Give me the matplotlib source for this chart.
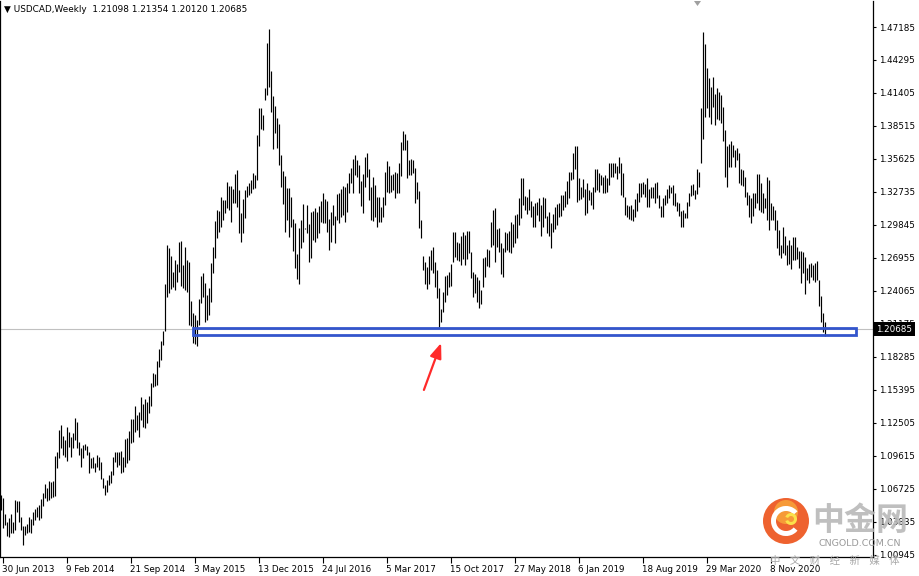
import matplotlib
matplotlib.use("Agg")
import matplotlib.pyplot as plt
from matplotlib.patches import Rectangle, Circle, Polygon, Wedge

# ---- data (one entry per weekly bar) ----
title_text = "\u25bc USDCAD,Weekly  1.21098 1.21354 1.20120 1.20685"
last_close = 1.20685

week_high = [
    1.0619, 1.0590, 1.0452, 1.0385, 1.0414, 1.0452, 1.0379, 1.0575, 1.0566, 1.0566,
    1.0429, 1.0347, 1.0347, 1.0365, 1.0423, 1.0406, 1.0467, 1.0496, 1.0511, 1.0531,
    1.0581, 1.0633, 1.0715, 1.0683, 1.0744, 1.0736, 1.0741, 1.0960, 1.0998, 1.1188,
    1.1232, 1.1136, 1.1101, 1.1212, 1.1168, 1.1130, 1.1159, 1.1290, 1.1261, 1.1086,
    1.1028, 1.1057, 1.1066, 1.1051, 1.0998, 1.0940, 1.0955, 1.0902, 1.0969, 1.0955,
    1.0905, 1.0765, 1.0706, 1.0750, 1.0794, 1.0832, 1.0955, 1.0993, 1.0998, 1.0993,
    1.1004, 1.0955, 1.1109, 1.1115, 1.1182, 1.1285, 1.1282, 1.1398, 1.1320, 1.1349,
    1.1474, 1.1416, 1.1457, 1.1437, 1.1486, 1.1603, 1.1685, 1.1679, 1.1796, 1.1895,
    1.1971, 1.2058, 1.2467, 1.2809, 1.2780, 1.2712, 1.2575, 1.2677, 1.2642, 1.2838,
    1.2847, 1.2634, 1.2794, 1.2677, 1.2663, 1.2321, 1.2210, 1.2196, 1.2152, 1.2333,
    1.2537, 1.2566, 1.2479, 1.2371, 1.2429, 1.2648, 1.2794, 1.3022, 1.3116, 1.3110,
    1.3232, 1.3203, 1.3203, 1.3358, 1.3329, 1.3326, 1.3297, 1.3431, 1.3466, 1.3291,
    1.3092, 1.3209, 1.3291, 1.3329, 1.3355, 1.3378, 1.3443, 1.3422, 1.3773, 1.4006,
    1.4006, 1.3948, 1.4181, 1.4576, 1.4698, 1.4336, 1.4114, 1.4027, 1.3919, 1.3869,
    1.3597, 1.3457, 1.3413, 1.3311, 1.3305, 1.3232, 1.3034, 1.3005, 1.2730, 1.2955,
    1.3028, 1.3168, 1.2960, 1.3159, 1.2993, 1.3101, 1.3110, 1.3130, 1.3101, 1.3151,
    1.3197, 1.3267, 1.3212, 1.3197, 1.3034, 1.3101, 1.3159, 1.3063, 1.3256, 1.3262,
    1.3297, 1.3329, 1.3320, 1.3355, 1.3437, 1.3481, 1.3559, 1.3597, 1.3554, 1.3510,
    1.3373, 1.3431, 1.3577, 1.3612, 1.3475, 1.3314, 1.3402, 1.3335, 1.3232, 1.3227,
    1.3145, 1.3227, 1.3451, 1.3548, 1.3501, 1.3422, 1.3428, 1.3451, 1.3437, 1.3530,
    1.3714, 1.3808, 1.3781, 1.3729, 1.3554, 1.3559, 1.3554, 1.3486, 1.3364, 1.3285,
    1.3028, 1.2715, 1.2660, 1.2615, 1.2710, 1.2765, 1.2788, 1.2663, 1.2590, 1.2429,
    1.2248, 1.2394, 1.2540, 1.2546, 1.2575, 1.2642, 1.2925, 1.2925, 1.2838, 1.2829,
    1.2887, 1.2925, 1.2896, 1.2934, 1.2934, 1.2750, 1.2575, 1.2555, 1.2531, 1.2502,
    1.2414, 1.2692, 1.2701, 1.2771, 1.2765, 1.3013, 1.3115, 1.3130, 1.2946, 1.2955,
    1.2829, 1.2779, 1.2925, 1.2911, 1.2934, 1.3013, 1.2993, 1.3071, 1.3080, 1.3217,
    1.3393, 1.3393, 1.3238, 1.3232, 1.3296, 1.3197, 1.3150, 1.3179, 1.3188, 1.3217,
    1.3159, 1.3232, 1.3217, 1.3063, 1.3101, 1.2998, 1.3080, 1.3139, 1.3168, 1.3174,
    1.3247, 1.3247, 1.3285, 1.3372, 1.3451, 1.3451, 1.3612, 1.3676, 1.3676, 1.3393,
    1.3320, 1.3384, 1.3296, 1.3349, 1.3290, 1.3276, 1.3320, 1.3471, 1.3471, 1.3442,
    1.3422, 1.3407, 1.3422, 1.3393, 1.3530, 1.3524, 1.3524, 1.3530, 1.3501, 1.3577,
    1.3524, 1.3442, 1.3232, 1.3159, 1.3150, 1.3159, 1.3121, 1.3209, 1.3267, 1.3355,
    1.3355, 1.3364, 1.3343, 1.3393, 1.3297, 1.3320, 1.3320, 1.3355, 1.3364, 1.3247,
    1.3151, 1.3218, 1.3247, 1.3297, 1.3335, 1.3320, 1.3335, 1.3267, 1.3188, 1.3174,
    1.3110, 1.3116, 1.3092, 1.3188, 1.3262, 1.3335, 1.3343, 1.3291, 1.3472, 1.3451,
    1.4006, 1.4678, 1.4570, 1.4356, 1.4269, 1.4190, 1.4278, 1.4132, 1.4181, 1.4152,
    1.4123, 1.4015, 1.3816, 1.3676, 1.3694, 1.3723, 1.3685, 1.3641, 1.3656, 1.3618,
    1.3472, 1.3466, 1.3402, 1.3276, 1.3247, 1.3218, 1.3267, 1.3267, 1.3431, 1.3431,
    1.3349, 1.3267, 1.3218, 1.3408, 1.3378, 1.3180, 1.3151, 1.3116, 1.3028, 1.2940,
    1.2809, 1.2970, 1.2888, 1.2809, 1.2853, 1.2809, 1.2882, 1.2882, 1.2794, 1.2759,
    1.2759, 1.2750, 1.2707, 1.2605, 1.2639, 1.2648, 1.2634, 1.2654, 1.2672, 1.2502,
    1.2362, 1.2216, 1.21354,
]

week_low = [
    1.0487, 1.0327, 1.0356, 1.0260, 1.0254, 1.0283, 1.0289, 1.0312, 1.0473, 1.0385,
    1.0312, 1.0181, 1.0268, 1.0283, 1.0298, 1.0283, 1.0356, 1.0400, 1.0429, 1.0400,
    1.0414, 1.0522, 1.0590, 1.0569, 1.0575, 1.0590, 1.0604, 1.0610, 1.0852, 1.0940,
    1.1028, 1.0969, 1.0955, 1.0920, 1.1042, 1.0955, 1.1028, 1.1101, 1.1028, 1.0969,
    1.0867, 1.0940, 1.1013, 1.0969, 1.0814, 1.0852, 1.0852, 1.0823, 1.0867, 1.0838,
    1.0756, 1.0677, 1.0619, 1.0648, 1.0706, 1.0721, 1.0794, 1.0911, 1.0867, 1.0882,
    1.0814, 1.0823, 1.0867, 1.0896, 1.0925, 1.1077, 1.1086, 1.1174, 1.1188, 1.1130,
    1.1276, 1.1217, 1.1203, 1.1247, 1.1334, 1.1398, 1.1562, 1.1574, 1.1582, 1.1737,
    1.1801, 1.1933, 1.2053, 1.2356, 1.2385, 1.2420, 1.2444, 1.2415, 1.2488, 1.2575,
    1.2450, 1.2429, 1.2415, 1.2400, 1.2108, 1.2099, 1.1953, 1.1945, 1.1927, 1.2108,
    1.2298, 1.2356, 1.2137, 1.2152, 1.2195, 1.2313, 1.2561, 1.2692, 1.2867, 1.2926,
    1.2970, 1.3028, 1.3086, 1.3130, 1.3116, 1.3013, 1.3174, 1.3180, 1.3145, 1.2911,
    1.2838, 1.2911, 1.3043, 1.3232, 1.3247, 1.3262, 1.3297, 1.3305, 1.3378, 1.3676,
    1.3822, 1.3816, 1.4079, 1.4123, 1.4196, 1.3977, 1.3647, 1.3787, 1.3656, 1.3510,
    1.3320, 1.3168, 1.2926, 1.3028, 1.2876, 1.2964, 1.2759, 1.2605, 1.2508, 1.2467,
    1.2780, 1.2838, 1.2950, 1.2917, 1.2663, 1.2692, 1.2853, 1.2838, 1.2867, 1.2911,
    1.3013, 1.3005, 1.2999, 1.2926, 1.2765, 1.2838, 1.2984, 1.2829, 1.3028, 1.2999,
    1.3051, 1.3072, 1.3013, 1.3101, 1.3262, 1.3349, 1.3267, 1.3422, 1.3408, 1.3262,
    1.3151, 1.3086, 1.3320, 1.3408, 1.3203, 1.3028, 1.3022, 1.3057, 1.2970, 1.3013,
    1.3013, 1.3057, 1.3159, 1.3276, 1.3267, 1.3276, 1.3291, 1.3218, 1.3267, 1.3267,
    1.3413, 1.3641, 1.3641, 1.3393, 1.3422, 1.3422, 1.3437, 1.3174, 1.3209, 1.2955,
    1.2867, 1.2590, 1.2470, 1.2425, 1.2465, 1.2590, 1.2560, 1.2444, 1.2341, 1.2093,
    1.2137, 1.2225, 1.2312, 1.2371, 1.2444, 1.2449, 1.2663, 1.2706, 1.2677, 1.2671,
    1.2633, 1.2683, 1.2633, 1.2683, 1.2741, 1.2517, 1.2356, 1.2385, 1.2312, 1.2254,
    1.2290, 1.2444, 1.2531, 1.2625, 1.2619, 1.2788, 1.2809, 1.2663, 1.2794, 1.2750,
    1.2555, 1.2531, 1.2750, 1.2765, 1.2745, 1.2741, 1.2794, 1.2823, 1.2867, 1.2984,
    1.3042, 1.3159, 1.3115, 1.3080, 1.3115, 1.3051, 1.2969, 1.2969, 1.3071, 1.3022,
    1.2887, 1.2969, 1.3042, 1.2911, 1.2887, 1.2779, 1.2925, 1.2946, 1.2984, 1.3051,
    1.3063, 1.3115, 1.3139, 1.3168, 1.3217, 1.3378, 1.3384, 1.3471, 1.3188, 1.3203,
    1.3209, 1.3232, 1.3071, 1.3092, 1.3203, 1.3159, 1.3121, 1.3276, 1.3290, 1.3276,
    1.3334, 1.3267, 1.3261, 1.3276, 1.3334, 1.3407, 1.3407, 1.3436, 1.3384, 1.3436,
    1.3247, 1.3232, 1.3071, 1.3057, 1.3033, 1.3028, 1.3022, 1.3051, 1.3110, 1.3188,
    1.3232, 1.3256, 1.3232, 1.3139, 1.3139, 1.3218, 1.3218, 1.3180, 1.3218, 1.3130,
    1.3057, 1.3051, 1.3159, 1.3180, 1.3218, 1.3262, 1.3159, 1.3151, 1.3110, 1.3063,
    1.2964, 1.2964, 1.3043, 1.3043, 1.3151, 1.3238, 1.3247, 1.3209, 1.3256, 1.3320,
    1.3524, 1.3735, 1.3927, 1.4006, 1.3933, 1.3869, 1.4015, 1.3860, 1.3910, 1.3904,
    1.3875, 1.3723, 1.3402, 1.3320, 1.3495, 1.3495, 1.3577, 1.3495, 1.3554, 1.3355,
    1.3335, 1.3326, 1.3232, 1.3159, 1.3051, 1.2999, 1.3063, 1.3130, 1.3180, 1.3116,
    1.3101, 1.3086, 1.3130, 1.3028, 1.2940, 1.3028, 1.3028, 1.2940, 1.2780, 1.2721,
    1.2692, 1.2736, 1.2721, 1.2634, 1.2642, 1.2596, 1.2678, 1.2678, 1.2683, 1.2605,
    1.2473, 1.2567, 1.2380, 1.2502, 1.2473, 1.2532, 1.2502, 1.2488, 1.2502, 1.2274,
    1.2137, 1.2050, 1.20120,
]

price_ticks = [1.47185, 1.44295, 1.41405, 1.38515, 1.35625, 1.32735, 1.29845,
               1.26955, 1.24065, 1.21175, 1.18285, 1.15395, 1.12505, 1.09615,
               1.06725, 1.03835, 1.00945]

date_labels = ["30 Jun 2013", "9 Feb 2014", "21 Sep 2014", "3 May 2015",
               "13 Dec 2015", "24 Jul 2016", "5 Mar 2017", "15 Oct 2017",
               "27 May 2018", "6 Jan 2019", "18 Aug 2019", "29 Mar 2020",
               "8 Nov 2020"]
weeks_per_label = 32

# support zone drawn on the chart
zone_low, zone_high = 1.2018, 1.2082
zone_first_bar, zone_last_bar = 96, 427.75

W, H = 919, 576
fig = plt.figure(figsize=(W / 100, H / 100), dpi=100)
fig.patch.set_facecolor("white")
ax = fig.add_axes([0, 19 / H, 873 / W, 556 / H])

bars = list(range(len(week_high)))
ax.vlines(bars, week_low, week_high, color="black", lw=0.85, antialiased=True,
          capstyle="butt", zorder=3)

ax.set_xlim(-0.25, 436.25)
ax.set_ylim(1.00755, 1.49463)

# last price line
ax.axhline(last_close, color="#c0c0c0", lw=0.8, zorder=1)

# blue support box
ax.add_patch(Rectangle((zone_first_bar, zone_low), zone_last_bar - zone_first_bar,
                       zone_high - zone_low, fill=False, edgecolor="#3355cc",
                       lw=2.0, zorder=4))

# red arrow pointing at the 2017 low
ax.annotate("", xy=(220.3, 1.1950), xytext=(211.7, 1.1539),
            arrowprops=dict(arrowstyle="-|>,head_length=0.9,head_width=0.35",
                            color="#ff2a2a", lw=1.6, shrinkA=0, shrinkB=0),
            zorder=5)

# axes styling (MT4 look)
ax.spines["top"].set_visible(False)
for side in ["left", "bottom", "right"]:
    ax.spines[side].set_linewidth(0.9)
    ax.spines[side].set_color("black")

ax.yaxis.tick_right()
ax.set_yticks(price_ticks)
ax.set_yticklabels([f"{p:.5f}" for p in price_ticks])
ax.tick_params(axis="y", direction="out", length=2.5, width=0.8, pad=1.5,
               labelsize=6.3, colors="black")

ax.set_xticks([1 + weeks_per_label * k for k in range(len(date_labels))])
ax.set_xticklabels(date_labels, ha="left")
ax.tick_params(axis="x", direction="out", length=4, width=0.8, pad=1.5,
               labelsize=6.3, colors="black")

# title line
fig.text(4 / W, 1 - 10 / H, title_text, fontsize=6.4, va="center", ha="left")

# current price tag on the price axis
fig.patches.append(Rectangle((874 / W, 1 - 336 / H), 41 / W, 14 / H,
                             transform=fig.transFigure, facecolor="black",
                             edgecolor="none", zorder=10))
fig.text(876 / W, 1 - 329 / H, f"{last_close:.5f}", color="white", fontsize=6.3,
         va="center", ha="left", zorder=11)

# small shift marker at the top
fig.patches.append(Polygon([(694 / W, 1 - 1 / H), (701 / W, 1 - 1 / H), (697.5 / W, 1 - 6 / H)],
                           closed=True, transform=fig.transFigure,
                           facecolor="#a0a0a0", edgecolor="none"))

# watermark (logo + text)
fig.patches.append(Circle((786, H - 521), 23, transform=None, facecolor="#ee5a24",
                          edgecolor="none", alpha=0.95, zorder=6))
fig.patches.append(Circle((786, H - 512), 12, transform=None, facecolor="#f7a13a",
                          edgecolor="none", alpha=0.9, zorder=6))
fig.patches.append(Wedge((786, H - 521), 15, 40, 320, width=5, transform=None,
                         facecolor="white", edgecolor="none", zorder=7))
fig.patches.append(Wedge((791, H - 519), 6, 200, 520, width=3, transform=None,
                         facecolor="#fbe14a", edgecolor="none", zorder=7))

cjk = ["Noto Sans CJK SC", "DejaVu Sans"]
fig.text(812 / W, 1 - 521 / H, "中金网", family=cjk, fontsize=23, fontweight="bold",
         color="#b8b8b8", alpha=0.9, va="center", ha="left", zorder=8)
fig.text(860 / W, 1 - 543 / H, "CNGOLD.COM.CN", fontsize=6.8, color="#9a9a9a",
         va="center", ha="center", zorder=8)
fig.text(835 / W, 1 - 561 / H, "中    文    财    经    新    媒    体", family=cjk,
         fontsize=7.5, color="#a8a8a8", va="center", ha="center", zorder=8)

fig.savefig("out.png", dpi=100, facecolor="white")
